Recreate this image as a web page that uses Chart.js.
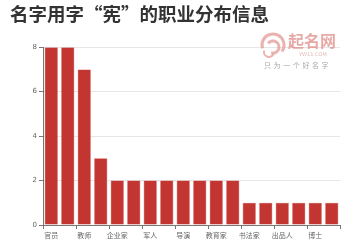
<!DOCTYPE html>
<html>
<head>
<meta charset="utf-8">
<script src="https://cdn.jsdelivr.net/npm/chart.js@4"></script>
<style>
  html, body { margin: 0; padding: 0; background: #fff; }
  #wrap { width: 360px; height: 240px; }
</style>
</head>
<body>
<div id="wrap"><canvas id="jobs"></canvas></div>
<script>
// data
let jobs = ['官员', '演员', '教师', '作家', '企业家', '商人', '军人', '画家', '导演',
            '编剧', '教育家', '医生', '书法家', '学者', '出品人', '歌手', '博士', '记者']
let counts = [8, 8, 7, 3, 2, 2, 2, 2, 2, 2, 2, 2, 1, 1, 1, 1, 1, 1]
let yTicks = [0, 2, 4, 6, 8]

let cjk = '"Noto Sans CJK SC", "Noto Sans", sans-serif'

//watermark in the top right corner
let watermark = {
	id: 'watermark',
	afterDraw(chart) {
		let c = chart.ctx
		c.save()
		c.globalAlpha = 0.75
		// swirl icon
		c.strokeStyle = '#e39a96'
		c.lineWidth = 3
		c.beginPath(); c.arc(273, 45, 11, Math.PI * 0.9, Math.PI * 2.2); c.stroke()
		c.beginPath(); c.arc(273, 47, 6, Math.PI * 1.2, Math.PI * 2.6); c.stroke()
		c.lineWidth = 2
		c.beginPath(); c.arc(269, 52, 5, Math.PI * 0.1, Math.PI * 1.1); c.stroke()
		// name
		c.fillStyle = '#e08c88'
		c.font = 'bold 16px ' + cjk
		c.textBaseline = 'middle'
		c.fillText('起名网', 288, 41)
		c.fillStyle = '#d9a09c'
		c.font = '5px "DejaVu Sans"'
		c.fillText('YW11.COM', 299, 55)
		c.fillStyle = '#8a8a8a'
		c.font = '7px ' + cjk
		let slogan = '只为一个好名字'
		for (let i = 0; i < slogan.length; i++) {
			c.fillText(slogan[i], 264 + i * 9.6, 65)
		}
		c.restore()
	}
}

new Chart('jobs', {
	type: 'bar',
	data: {
		labels: jobs,
		datasets: [{
			data: counts,
			backgroundColor: '#c23531',
			borderColor: '#d04e4a',
			borderWidth: 0.5,
			categoryPercentage: 0.8,
			barPercentage: 1
		}]
	},
	options: {
		responsive: true,
		maintainAspectRatio: false,
		animation: false,
		layout: { padding: { left: 10, right: 20, top: 0, bottom: 0 } },
		plugins: {
			legend: { display: false },
			tooltip: { enabled: false },
			title: {
				display: true,
				text: '名字用字“宪”的职业分布信息',
				align: 'start',
				color: '#333',
				font: { size: 18.5, weight: 'bold', family: cjk },
				padding: { top: 3, bottom: 22 }
			}
		},
		scales: {
			x: {
				offset: true,
				afterFit: (scale) => { scale.height = 15 },
				grid: {
					offset: true,
					drawOnChartArea: false,
					tickLength: 4,
					color: (ctx) => (ctx.index !== undefined && ctx.index % 2 === 1) ? 'rgba(0,0,0,0)' : '#777'
				},
				border: { color: '#777' },
				ticks: {
					autoSkip: false,
					maxRotation: 0,
					padding: 2,
					color: '#666',
					font: { size: 7, family: cjk },
					callback: function (val, i) { return i % 2 === 0 ? this.getLabelForValue(val) : '' }
				}
			},
			y: {
				min: 0,
				max: 8,
				afterFit: (scale) => { scale.width = 33 },
				afterBuildTicks: (scale) => { scale.ticks = yTicks.map(v => ({ value: v })) },
				grid: { color: '#e6e6e6', tickColor: '#777', tickLength: 4 },
				border: { color: '#777' },
				ticks: { color: '#666', padding: 2, font: { size: 7, family: 'DejaVu Sans' } }
			}
		}
	},
	plugins: [watermark]
})
</script>
</body>
</html>
